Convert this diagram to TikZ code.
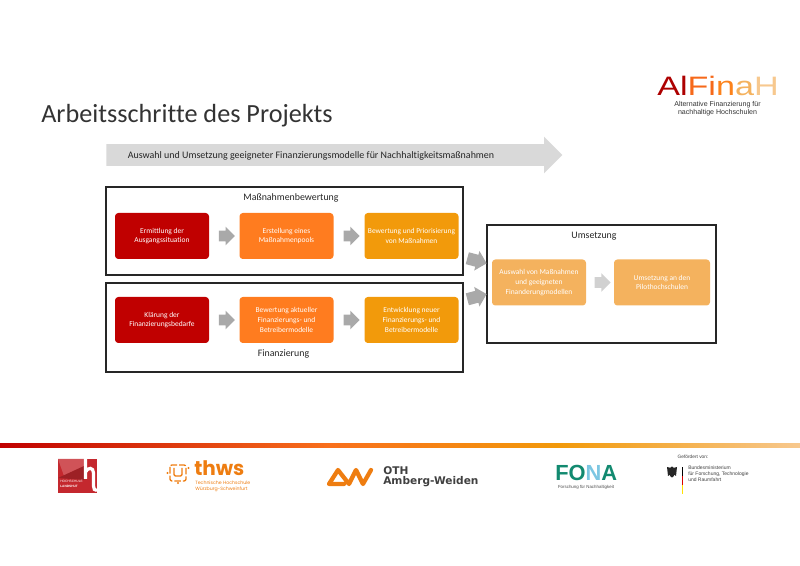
\documentclass[tikz,border=0pt]{standalone}
\usepackage{fontspec}
\setmainfont[Ligatures=NoCommon]{Carlito}
\newfontfamily\logofont{Liberation Sans}
\newfontfamily\alfont[FakeStretch=1.28]{Liberation Sans}
\newfontfamily\othfont{DejaVu Sans}
\newfontfamily\thwsfont{Poppins}
\usetikzlibrary{shapes.arrows,calc}
\definecolor{alred}{HTML}{C00000}
\definecolor{alorange}{HTML}{FF7C1F}
\definecolor{alamber}{HTML}{F29A0B}
\definecolor{allight}{HTML}{F4B25E}
\definecolor{alpale}{HTML}{F7C88E}
\definecolor{algrey}{HTML}{A9A9A9}
\definecolor{thwsorange}{HTML}{EE7D11}
\definecolor{hawred}{HTML}{C4282E}
\definecolor{fonagreen}{HTML}{128A70}
\definecolor{fonablue}{HTML}{7CC6E2}
\tikzset{
  stepbox/.style={rounded corners=2.5pt,minimum width=70.5pt,minimum height=34.5pt,inner sep=0pt,
    align=center,text=white,font=\fontsize{5.6}{7.4}\selectfont},
  framebox/.style={draw=black!85,line width=.8pt,inner sep=0pt},
  boxtitle/.style={font=\fontsize{7.4}{8.5}\selectfont,text=black!85,inner sep=0pt},
  blockarrow/.style={single arrow,fill=algrey,inner xsep=0pt,inner ysep=3.9pt,outer sep=0pt,
    single arrow head extend=3pt,minimum height=12pt,single arrow head indent=0pt},
  diagarrow/.style={blockarrow,inner ysep=4.4pt,single arrow head extend=3pt,minimum height=15pt},
  tinytext/.style={inner sep=0pt,align=center}
}
\begin{document}
\begin{tikzpicture}[x=.75pt,y=-.75pt,line cap=butt]
  \useasboundingbox (0,0) rectangle (800,566);
  \node[anchor=base west,inner sep=0pt,font=\fontsize{19.65}{22}\selectfont,text=black!80] (title) at (41,122.5) {Arbeitsschritte des Projekts};
  \node[single arrow,fill=black!15,inner xsep=0pt,inner ysep=7.9pt,outer sep=0pt,minimum height=342pt,
    single arrow head extend=5.6pt,single arrow head indent=0pt] (mainarrow) at (329,155) {};
  \node[inner sep=0pt,font=\fontsize{7.48}{9}\selectfont,text=black!85] (maintext) at (311,156) {Auswahl und Umsetzung geeigneter Finanzierungsmodelle für Nachhaltigkeitsmaßnahmen};
  \node[framebox,minimum width=267.75pt,minimum height=66pt] (massbox) at (284.5,231) {};
  \node[framebox,minimum width=267.75pt,minimum height=66.75pt] (finbox) at (284.5,327.5) {};
  \node[framebox,minimum width=171.75pt,minimum height=88.5pt] (umsbox) at (601.5,284) {};
  \node[boxtitle] (masstitle) at (291,198) {Maßnahmenbewertung};
  \node[boxtitle] (fintitle) at (283.5,354) {Finanzierung};
  \node[boxtitle] (umstitle) at (594,236.5) {Umsetzung};
  \node[stepbox,fill=alred] (ermittlung) at (162,236) {Ermittlung der\\Ausgangssituation};
  \node[stepbox,fill=alorange] (erstellung) at (286.5,236) {Erstellung eines\\Maßnahmenpools};
  \node[stepbox,fill=alamber] (bewertung) at (411.5,236) {Bewertung und Priorisierung\\von Maßnahmen};
  \node[stepbox,fill=alred] (klaerung) at (162,320) {Klärung der\\Finanzierungsbedarfe};
  \node[stepbox,fill=alorange] (aktuell) at (286.5,320) {Bewertung aktueller\\Finanzierungs- und\\Betreibermodelle};
  \node[stepbox,fill=alamber] (neu) at (411.5,320) {Entwicklung neuer\\Finanzierungs- und\\Betreibermodelle};
  \node[stepbox,fill=allight] (auswahl) at (539,282.5) {Auswahl von Maßnahmen\\und geeigneten\\Finanderungmodellen};
  \node[stepbox,fill=allight,minimum width=72pt] (pilot) at (662,282.5) {Umsetzung an den\\Pilothochschulen};
  \node[blockarrow] (pfeila) at ($(ermittlung.east)!.5!(erstellung.west)$) {};
  \node[blockarrow] (pfeilb) at ($(erstellung.east)!.5!(bewertung.west)$) {};
  \node[blockarrow] (pfeilc) at ($(klaerung.east)!.5!(aktuell.west)$) {};
  \node[blockarrow] (pfeild) at ($(aktuell.east)!.5!(neu.west)$) {};
  \node[blockarrow,fill=black!18] (pfeile) at ($(auswahl.east)!.5!(pilot.west)$) {};
  \node[diagarrow,rotate=-15] (pfeilf) at (474,260) {};
  \node[diagarrow,rotate=15] (pfeilg) at (474,297.5) {};
  \shade[left color=alred,right color=alorange!90!alred] (0,444) rectangle (330,448);
  \shade[left color=alorange!90!alred,right color=alamber] (330,444) rectangle (560,448);
  \shade[left color=alamber,right color=alpale] (560,444) rectangle (800,448);
  % AlFinaH
  \node[anchor=base west,inner sep=0pt,font=\alfont\fontsize{20}{22}\selectfont] (alfinah) at (657,96)
    {\textcolor{alred!90!black}{Al}\textcolor{alorange!85!alred}{Fi}\textcolor{alorange!80!alamber}{n}\textcolor{allight}{a}\textcolor{alpale}{H}};
  \node[tinytext,font=\logofont\fontsize{5.3}{5.9}\selectfont,text=black!80] (alsub) at (717.5,108.7) {Alternative Finanzierung für\\nachhaltige Hochschulen};
  % Landshut
  \fill[hawred] (58,459) rectangle (97,493);
  \fill[hawred!80!white] (58,459) -- (84,459) -- (84,470) -- (64,476) -- cycle;
  \fill[hawred!80!black] (58,478) -- (84,466) -- (84,480) -- cycle;
  \draw[white,line width=2.4pt] (85.5,459) -- (85.5,479) (85.5,472) .. controls (88,467) and (93.5,467) .. (93.5,473) -- (93.5,486) .. controls (93.5,489) and (94.5,490.5) .. (97,490.5);
  \node[tinytext,anchor=west,align=left,font=\logofont\fontsize{2.4}{3.6}\selectfont,text=white] (landshut) at (60,483.5) {HOCHSCHULE\\\textbf{LANDSHUT}};
  % thws
  \draw[thwsorange,line width=1pt,rounded corners=1.5pt,dash pattern=on 5pt off 1.5pt] (170,465) rectangle (186,481);
  \draw[thwsorange,line width=1pt,rounded corners=1pt] (174,468) -- (174,476) -- (182,476) -- (182,468);
  \fill[thwsorange] (167.5,473) circle (.9pt) (188.5,468) circle (.9pt) (178,483) circle (.9pt);
  \node[anchor=base west,inner sep=0pt,font=\thwsfont\bfseries\fontsize{15}{16}\selectfont,text=thwsorange] (thws) at (194,476) {thws};
  \node[tinytext,anchor=west,align=left,font=\thwsfont\fontsize{3.5}{4.8}\selectfont,text=thwsorange] (thwssub) at (195,486.5) {Technische Hochschule\\Würzburg-Schweinfurt};
  % OTH
  \draw[thwsorange,line width=3.2pt,line join=round,line cap=round] (344,484) -- (329,484) -- (338,470) -- (349,484) -- (356,470) -- (363,484) -- (371,470);
  \node[tinytext,anchor=west,align=left,font=\othfont\bfseries\fontsize{7.95}{6.1}\selectfont,text=black!75] (oth) at (383,476.5) {OTH\\Amberg-Weiden};
  % FONA
  \node[anchor=base west,inner sep=0pt,font=\logofont\bfseries\fontsize{16.4}{18}\selectfont] (fona) at (555,481)
    {\textcolor{fonagreen}{FO}\textcolor{fonablue}{N}\textcolor{fonagreen}{A}};
  \node[tinytext,font=\logofont\fontsize{3.3}{4}\selectfont,text=black!70] (fonasub) at (586,487.5) {Forschung für Nachhaltigkeit};
  % BMBF
  \node[tinytext,font=\logofont\fontsize{3.6}{4}\selectfont,text=black!75] (gefoerdert) at (693,456.5) {Gefördert von:};
  \fill[black!85] (672,472) ellipse (2pt and 4.2pt);
  \fill[black!85] (667,467) -- (671,468) -- (671,474) -- (668,476) -- cycle (677,467) -- (673,468) -- (673,474) -- (676,476) -- cycle;
  \fill[black] (682,467) rectangle (683.4,476);
  \fill[red!85!black] (682,476) rectangle (683.4,485);
  \fill[yellow!85!orange] (682,485) rectangle (683.4,494);
  \node[tinytext,anchor=north west,align=left,font=\logofont\fontsize{3.75}{4.3}\selectfont,text=black!75] (bmbf) at (688,466) {Bundesministerium\\für Forschung, Technologie\\und Raumfahrt};
\end{tikzpicture}
\end{document}
